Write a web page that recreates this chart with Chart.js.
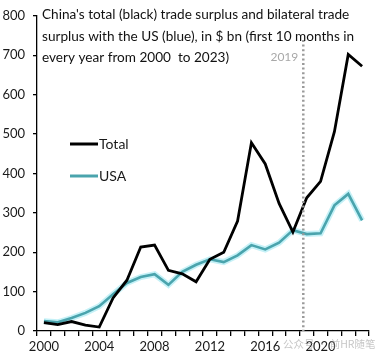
<!DOCTYPE html>
<html>
<head>
<meta charset="utf-8">
<script src="https://cdn.jsdelivr.net/npm/chart.js@4/dist/chart.umd.min.js"></script>
<style>
    html, body { margin: 0; padding: 0; background: #fff; }
    #wrap { width: 384px; height: 360px; position: relative; }
</style>
</head>
<body>
<div id="wrap"><canvas id="chart" width="384" height="360"></canvas></div>
<script>
const years = ['2000', '2001', '2002', '2003', '2004', '2005', '2006', '2007', '2008', '2009', '2010', '2011',
    '2012', '2013', '2014', '2015', '2016', '2017', '2018', '2019', '2020', '2021', '2022', '2023'];
const totalSurplus = [21, 16, 24, 15, 10, 84, 129, 213, 218, 154, 145, 125, 182, 200, 279, 478, 424, 324, 251, 338, 380, 506, 702, 672];
const usaSurplus = [25, 22, 33, 46, 63, 93, 122, 137, 144, 117, 150, 168, 182, 175, 192, 218, 207, 224, 256, 246, 248, 319, 348, 281];
const titleLines = [
    "China's total (black) trade surplus and bilateral trade",
    "surplus with the US (blue), in $ bn (first 10 months in",
    "every year from 2000  to 2023)"
];
const markerLabel = '2019';
const markerPos = 18.75; // category index where the dotted line sits
const watermark = '公众号 · 前HR随笔';

const FONT = 'Lato, "Open Sans", sans-serif';
const TEAL = '#4aa4ad';

const overlay = {
    id: 'overlay',
    afterDatasetsDraw(chart) {
        const { ctx, chartArea, scales } = chart;
        ctx.save();

        // dotted 2019 line
        const mx = scales.x.getPixelForValue(markerPos);
        ctx.strokeStyle = '#9a9a9a';
        ctx.lineWidth = 2.5;
        ctx.setLineDash([2, 2.6]);
        ctx.beginPath();
        ctx.moveTo(mx, 40);
        ctx.lineTo(mx, chartArea.bottom);
        ctx.stroke();
        ctx.setLineDash([]);

        ctx.fillStyle = '#a8a8a8';
        ctx.font = '12px ' + FONT;
        ctx.textAlign = 'right';
        ctx.textBaseline = 'middle';
        ctx.fillText(markerLabel, mx - 5, 57);

        // title
        ctx.fillStyle = '#111';
        ctx.font = '13.6px ' + FONT;
        ctx.textAlign = 'left';
        titleLines.forEach((t, i) => ctx.fillText(t, 42, 15 + i * 21.5));

        // legend
        const items = [
            { label: chart.data.datasets[1].label, color: '#000', y: 144 },
            { label: chart.data.datasets[3].label, color: TEAL, y: 176 }
        ];
        ctx.font = '14px ' + FONT;
        items.forEach(it => {
            ctx.strokeStyle = it.color;
            ctx.lineWidth = 3;
            ctx.beginPath();
            ctx.moveTo(70, it.y);
            ctx.lineTo(98, it.y);
            ctx.stroke();
            ctx.fillStyle = '#1a1a1a';
            ctx.fillText(it.label, 99, it.y);
        });

        // watermark
        ctx.fillStyle = 'rgba(150,150,150,0.55)';
        ctx.font = '10.5px "Noto Sans CJK SC", sans-serif';
        ctx.fillText(watermark, 283, 344);
        ctx.restore();
    }
};

new Chart(document.getElementById('chart'), {
    type: 'line',
    data: {
        labels: years,
        datasets: [
            { label: 'glow', data: usaSurplus, borderColor: 'rgba(150,230,240,0.55)', borderWidth: 6, pointRadius: 0, tension: 0, order: 3 },
            { label: 'Total', data: totalSurplus, borderColor: '#000', borderWidth: 2.8, pointRadius: 0, tension: 0, order: 1 },
            { label: 'unused', data: [], hidden: true },
            { label: 'USA', data: usaSurplus, borderColor: TEAL, borderWidth: 2.6, pointRadius: 0, tension: 0, order: 2 }
        ]
    },
    options: {
        responsive: false,
        animation: false,
        layout: { padding: { top: 8, right: 15, left: 0, bottom: 0 } },
        plugins: {
            legend: { display: false },
            tooltip: { enabled: false }
        },
        scales: {
            x: {
                offset: true,
                grid: { offset: true, drawOnChartArea: false, drawTicks: true, tickLength: 5, color: '#000', lineWidth: 1.3 },
                border: { color: '#000', width: 1.3 },
                ticks: {
                    autoSkip: false,
                    maxRotation: 0,
                    color: '#1a1a1a',
                    font: { family: FONT, size: 13 },
                    padding: 3,
                    callback: (v, i) => (i % 4 === 0 ? years[i] : '')
                },
                afterFit: s => { s.height = 29; }
            },
            y: {
                min: 0,
                max: 800,
                grid: { drawOnChartArea: false, drawTicks: true, tickLength: 4, color: '#000', lineWidth: 1.3 },
                border: { color: '#000', width: 1.3 },
                ticks: {
                    stepSize: 100,
                    color: '#1a1a1a',
                    font: { family: FONT, size: 13 },
                    padding: 8
                },
                afterFit: s => { s.width = 37; }
            }
        }
    },
    plugins: [overlay]
});
</script>
</body>
</html>
